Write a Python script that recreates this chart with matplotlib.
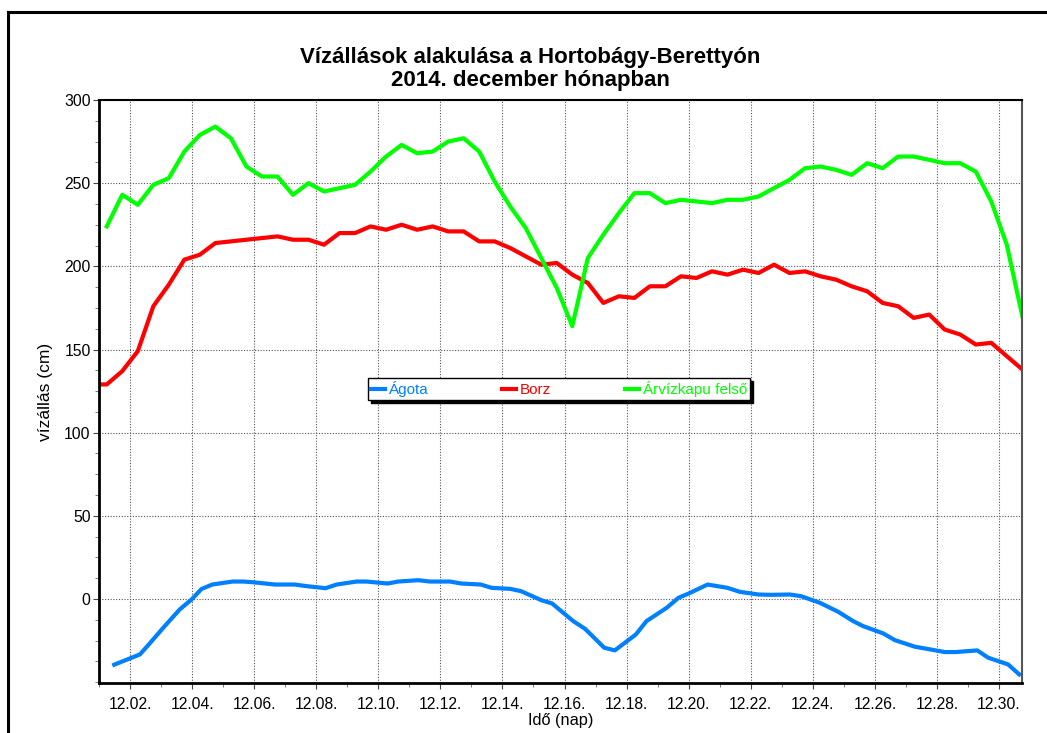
import matplotlib
matplotlib.use("Agg")
import matplotlib.pyplot as plt
from matplotlib.ticker import MultipleLocator, FixedLocator, FixedFormatter
from matplotlib.lines import Line2D

plt.rcParams['font.family'] = ['Liberation Sans', 'DejaVu Sans']

# ---- data ----
title = "Vízállások alakulása a Hortobágy-Berettyón\n2014. december hónapban"
xlabel = "Idő (nap)"
ylabel = "vízállás (cm)"
series_names = ["Ágota", "Borz", "Árvízkapu felső"]

day_ticks = [2, 4, 6, 8, 10, 12, 14, 16, 18, 20, 22, 24, 26, 28, 30]
day_labels = ["12.%02d." % d for d in day_ticks]

# half-daily readings (Borz, Árvízkapu felső)
t_half = [1.25 + 0.5 * k for k in range(60)]

borz_t = [0.75] + t_half
borz = [129,
        129, 137, 149, 176, 189, 204, 207, 214, 215, 216,
        217, 218, 216, 216, 213, 220, 220, 224, 222, 225,
        222, 224, 221, 221, 215, 215, 211, 206, 201, 202,
        195, 190, 178, 182, 181, 188, 188, 194, 193, 197,
        195, 198, 196, 201, 196, 197, 194, 192, 188, 185,
        178, 176, 169, 171, 162, 159, 153, 154, 146, 138]

arviz_t = t_half
arviz = [224, 243, 237, 249, 253, 269, 279, 284, 277, 260,
         254, 254, 243, 250, 245, 247, 249, 257, 266, 273,
         268, 269, 275, 277, 269, 251, 236, 223, 205, 187,
         164, 205, 219, 232, 244, 244, 238, 240, 239, 238,
         240, 240, 242, 247, 252, 259, 260, 258, 255, 262,
         259, 266, 266, 264, 262, 262, 257, 239, 213, 170]

agota_t = [1.49, 2.32, 2.62, 3.07, 3.6, 4.0, 4.3, 4.65, 5.3, 5.65,
           6.0, 6.67, 7.31, 7.7, 8.3, 8.66, 9.3, 9.62, 10.3, 10.64,
           11.29, 11.66, 12.3, 12.68, 13.3, 13.65, 14.25, 14.6, 15.25, 15.6,
           16.28, 16.66, 17.28, 17.62, 18.3, 18.64, 19.29, 19.67, 20.0, 20.61,
           21.25, 21.65, 22.25, 22.65, 23.26, 23.62, 24.23, 24.82, 25.3, 25.62,
           26.27, 26.64, 27.29, 27.66, 28.25, 28.6, 29.3, 29.65, 30.29, 30.65]
agota = [-39.5, -33.3, -27, -17.3, -6.3, 0, 6, 8.7, 10.5, 10.5,
         10, 8.7, 8.7, 7.7, 6.5, 8.7, 10.5, 10.5, 9.3, 10.5,
         11.3, 10.5, 10.5, 9.3, 8.7, 6.7, 6.1, 4.7, -0.7, -2.7,
         -13.3, -17.9, -29.3, -30.9, -21.3, -13.3, -5.3, 0.7, 3.3, 8.7,
         6.7, 4.3, 2.7, 2.5, 2.7, 1.7, -2.3, -7.7, -13.3, -16.3,
         -20.7, -24.7, -28.7, -29.9, -31.9, -31.9, -30.9, -35.3, -39.3, -45.3]

colors = ["#0080FF", "#FF0000", "#00FF00"]

# ---- figure ----
W, H = 1047, 733
fig = plt.figure(figsize=(W / 100, H / 100), dpi=100)
fig.patch.set_facecolor("white")

# outer frame (top and left only visible)
fig.add_artist(Line2D([8 / W, 1.0], [1 - 12 / H, 1 - 12 / H], transform=fig.transFigure,
                      color="black", lw=2.2))
fig.add_artist(Line2D([8 / W, 8 / W], [0, 1 - 12 / H], transform=fig.transFigure,
                      color="black", lw=2.2))

ax_l, ax_r, ax_t, ax_b = 99, 1022, 100, 683
ax = fig.add_axes([ax_l / W, 1 - ax_b / H, (ax_r - ax_l) / W, (ax_b - ax_t) / H])

ax.plot(agota_t, agota, color=colors[0], lw=3, label=series_names[0], solid_joinstyle="round")
ax.plot(borz_t, borz, color=colors[1], lw=3, label=series_names[1], solid_joinstyle="round")
ax.plot(arviz_t, arviz, color=colors[2], lw=3, label=series_names[2], solid_joinstyle="round")

ax.set_xlim(1, 30.74)
ax.set_ylim(-50.5, 300)

ax.xaxis.set_major_locator(FixedLocator(day_ticks))
ax.xaxis.set_major_formatter(FixedFormatter(day_labels))
ax.xaxis.set_minor_locator(MultipleLocator(1))
ax.set_yticks([0, 50, 100, 150, 200, 250, 300])
ax.yaxis.set_minor_locator(MultipleLocator(12.5))

ax.tick_params(axis="both", which="major", direction="out", length=4, width=0.8,
               labelsize=11.3, color="#444444", pad=2)
ax.tick_params(axis="both", which="minor", direction="out", length=3, width=0.6,
               color="#666666")
ax.tick_params(axis="x", which="major", pad=6)

ax.grid(True, which="major", color="#555555", linestyle=(0, (1, 1.5)), lw=0.8)
ax.set_axisbelow(True)

for s in ["left", "bottom"]:
    ax.spines[s].set_linewidth(2.0)
    ax.spines[s].set_color("black")
ax.spines["top"].set_linewidth(1.5)
ax.spines["top"].set_color("black")
ax.spines["right"].set_linewidth(1.5)
ax.spines["right"].set_color("#555555")

fig.text(530 / W, 1 - 69 / H, title, ha="center", va="center", fontsize=16,
         fontweight="bold", linespacing=1.1)
ax.set_xlabel(xlabel, fontsize=11.8, labelpad=1)
ax.set_ylabel(ylabel, fontsize=12.5, labelpad=8)

leg_x0 = (368 - ax_l) / (ax_r - ax_l)
leg_w = (750 - 368) / (ax_r - ax_l)
leg_y0 = (ax_b - 400) / (ax_b - ax_t)
leg_h = (400 - 378) / (ax_b - ax_t)
leg = ax.legend(loc="lower left", bbox_to_anchor=(leg_x0, leg_y0, leg_w, leg_h),
                mode="expand", ncol=3, borderaxespad=0, fontsize=11,
                handlelength=0.9, handletextpad=0.25, labelcolor="linecolor",
                fancybox=False, shadow={"color": "black", "alpha": 1.0},
                edgecolor="black", framealpha=1, borderpad=0.2)
leg.get_frame().set_linewidth(1.0)

fig.savefig("out.png", dpi=100, facecolor="white")
